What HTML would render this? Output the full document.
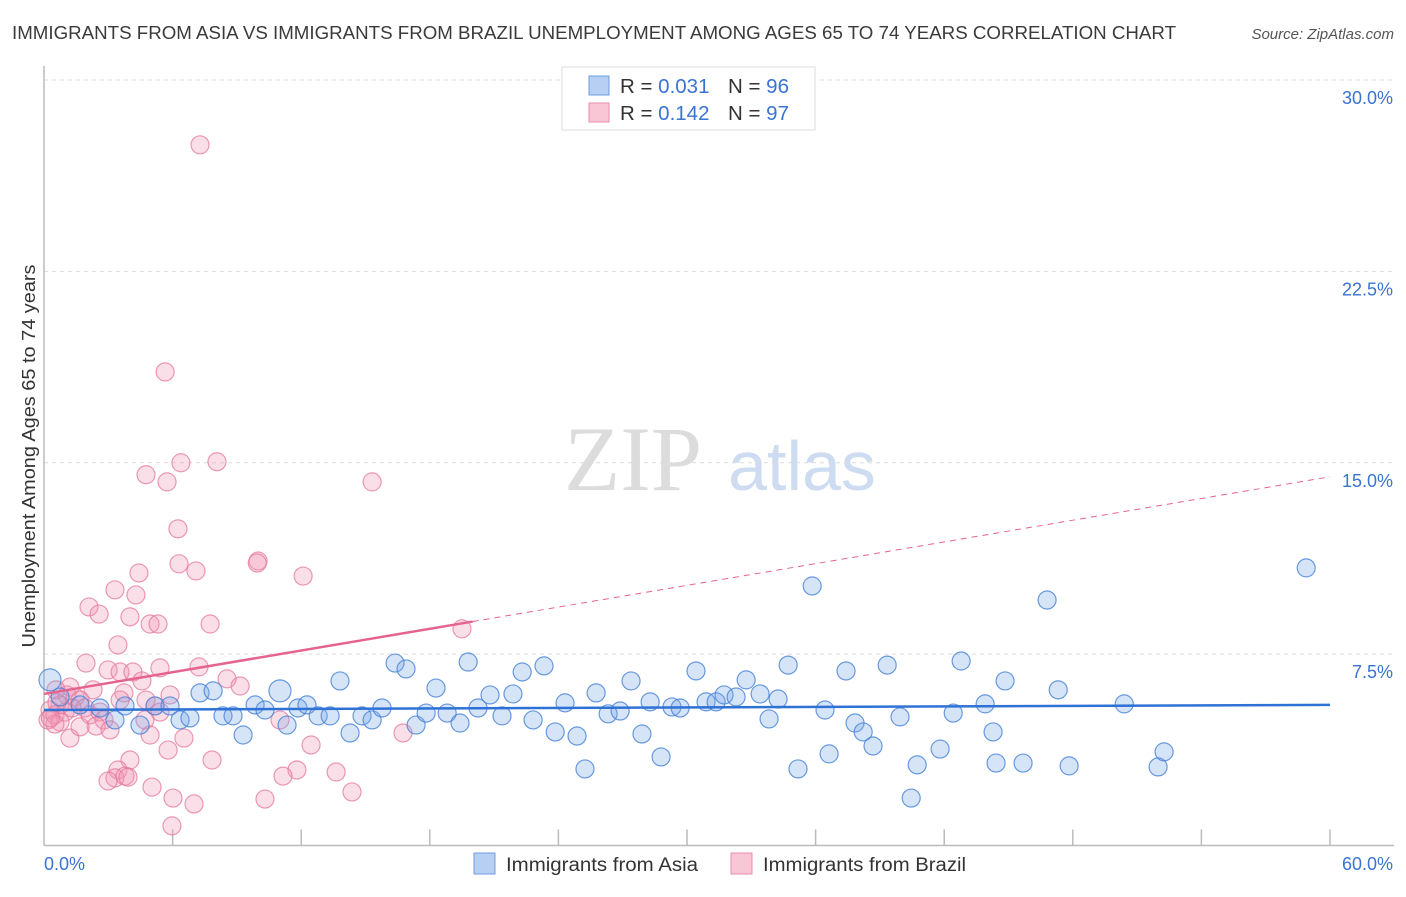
<!DOCTYPE html>
<html><head><meta charset="utf-8">
<style>
body{margin:0;background:#fff;font-family:"Liberation Sans",sans-serif;}
svg text{font-family:"Liberation Sans",sans-serif;}
</style></head>
<body>
<svg id="chart" width="1406" height="892" viewBox="0 0 1406 892">
  <text x="12" y="39" font-size="18" fill="#3a3a3a" textLength="1164" lengthAdjust="spacingAndGlyphs">IMMIGRANTS FROM ASIA VS IMMIGRANTS FROM BRAZIL UNEMPLOYMENT AMONG AGES 65 TO 74 YEARS CORRELATION CHART</text>
  <text x="1394" y="39" font-size="15" fill="#555" font-style="italic" text-anchor="end">Source: ZipAtlas.com</text>
  <g>
    <text x="633" y="490" font-size="92" fill="#dcdcdc" text-anchor="middle" font-family="Liberation Serif, serif" style="font-family:'Liberation Serif',serif">ZIP</text>
    <text x="802" y="490" font-size="70" fill="#cddcf0" text-anchor="middle">atlas</text>
  </g>
  <g id="grid"></g>
  <g id="axes"></g>
  <g id="pts"></g>
  <g id="trend"></g>
  <text x="35" y="456" font-size="18.5" fill="#333" text-anchor="middle" textLength="383" lengthAdjust="spacingAndGlyphs" transform="rotate(-90 35 456)">Unemployment Among Ages 65 to 74 years</text>
  <g>
    <rect x="562" y="67" width="253" height="63" fill="#fff" stroke="#ddd"/>
    <rect x="589" y="76" width="20" height="19" fill="#b7cff3" stroke="#6f9ee0"/>
    <rect x="589" y="103" width="20" height="19" fill="#f8c6d4" stroke="#e98fae"/>
    <text x="620" y="93" font-size="20.5" fill="#333">R = <tspan fill="#3a73d1">0.031</tspan><tspan x="728">N = </tspan><tspan fill="#3a73d1">96</tspan></text>
    <text x="620" y="120" font-size="20.5" fill="#333">R = <tspan fill="#3a73d1">0.142</tspan><tspan x="728">N = </tspan><tspan fill="#3a73d1">97</tspan></text>
  </g>
  <g>
    <rect x="474" y="853" width="21" height="21" fill="#b7cff3" stroke="#6f9ee0"/>
    <text x="506" y="871" font-size="19" fill="#333" textLength="192" lengthAdjust="spacingAndGlyphs">Immigrants from Asia</text>
    <rect x="731" y="853" width="21" height="21" fill="#f8c6d4" stroke="#e98fae"/>
    <text x="763" y="871" font-size="19" fill="#333" textLength="203" lengthAdjust="spacingAndGlyphs">Immigrants from Brazil</text>
  </g>
</svg>
<script>
const asiaX=[0.28,0.75,1.68,2.61,3.31,3.78,4.48,5.18,5.88,6.35,6.81,7.28,7.89,8.35,8.82,9.29,9.85,10.31,11.01,11.34,11.85,12.27,12.79,13.35,13.81,14.28,14.84,15.31,15.77,16.38,16.89,17.36,17.83,18.29,18.81,19.41,19.79,20.25,20.81,21.37,21.88,22.31,22.82,23.33,23.85,24.31,24.87,25.24,25.76,26.32,26.88,27.39,27.90,28.28,28.79,29.30,29.68,30.42,30.89,31.36,31.73,32.29,32.76,33.41,33.83,34.25,34.72,35.18,35.84,36.44,36.63,37.42,37.84,38.22,38.68,39.34,39.94,40.46,40.74,41.81,42.42,42.79,43.91,44.28,44.42,44.84,45.68,46.80,47.32,47.83,50.40,51.98,52.26,58.89];
const asiaY=[6.49,5.82,5.51,5.39,4.92,5.47,4.72,5.47,5.47,4.92,5.00,5.98,6.06,5.08,5.08,4.33,5.51,5.31,6.06,4.72,5.39,5.51,5.08,5.08,6.45,4.41,5.08,4.92,5.39,7.15,6.92,4.72,5.19,6.17,5.19,4.80,7.19,5.39,5.90,5.08,5.94,6.80,4.92,7.04,4.45,5.59,4.29,3.00,5.98,5.16,5.27,6.45,4.37,5.63,3.47,5.43,5.39,6.84,5.63,5.63,5.90,5.82,6.49,5.94,4.96,5.74,7.07,3.00,10.17,5.31,3.59,6.84,4.80,4.45,3.90,7.07,5.04,1.86,3.16,3.78,5.19,7.23,5.55,4.45,3.23,6.45,3.23,9.62,6.10,3.12,5.55,3.08,3.67,10.88];
const brazilX=[7.28,5.65,4.76,5.74,6.39,8.07,15.31,6.25,9.99,9.95,12.09,6.30,7.09,4.43,3.31,4.29,2.10,2.57,4.01,4.95,5.32,7.75,19.50,3.45,1.96,2.99,3.55,4.15,5.41,7.23,8.54,9.15,4.57,1.21,2.29,3.73,5.88,0.56,1.07,1.45,1.68,0.75,0.28,0.19,0.51,0.98,1.31,1.91,2.15,2.61,2.80,2.43,3.08,3.55,4.76,5.18,5.41,4.71,4.95,1.21,0.75,1.68,11.01,16.75,12.46,6.53,5.79,4.01,7.84,3.45,3.31,2.99,3.78,3.92,11.80,13.63,11.15,5.04,14.37,10.31,6.02,7.00,5.97,0.51,0.3,0.6];
const brazilY=[27.46,18.56,14.53,14.25,15.00,15.04,14.25,12.41,11.15,11.07,10.56,11.04,10.76,10.68,10.02,9.82,9.35,9.07,8.96,8.68,8.68,8.68,8.49,7.86,7.15,6.88,6.80,6.80,6.96,7.00,6.53,6.25,6.45,6.21,6.10,5.98,5.90,6.10,5.90,5.82,5.70,5.51,5.31,4.92,5.12,5.23,5.39,5.39,5.12,5.23,4.92,4.68,4.53,5.70,5.70,5.47,5.23,4.92,4.33,4.21,4.84,4.65,4.92,4.41,3.94,4.21,3.74,3.35,3.35,2.96,2.65,2.53,2.72,2.68,2.96,2.88,2.72,2.29,2.10,1.82,1.86,1.63,0.77,4.76,5.0,5.6];
const asiaTrend=[5.31,5.51];
const brazilTrend=[5.94,14.45];
const brazilSolidEnd=20.0;
const yTicks=[7.5,15.0,22.5,30.0];
const yTickLabels=["7.5%","15.0%","22.5%","30.0%"];
const xTickVals=[0,6,12,18,24,30,36,42,48,54,60];

const NS="http://www.w3.org/2000/svg";
const X0=44,X1=1330,Y0=845.5,YTOP=80;
function sx(v){return X0+v/60*(X1-X0);}
function sy(v){return Y0-v/30*(Y0-YTOP);}
function mk(tag,attrs,parent){const e=document.createElementNS(NS,tag);for(const k in attrs)e.setAttribute(k,attrs[k]);parent.appendChild(e);return e;}
const grid=document.getElementById('grid'),axes=document.getElementById('axes'),pts=document.getElementById('pts'),trend=document.getElementById('trend');
yTicks.forEach((t,i)=>{
  const l=mk('line',{x1:X0,x2:1394,y1:sy(t),y2:sy(t),stroke:'#dcdcdc','stroke-dasharray':'4,4'},grid);
  
  
  const tx=mk('text',{x:1393,y:sy(t)+24,'font-size':18,fill:'#3a73d1','text-anchor':'end'},grid);
  tx.textContent=yTickLabels[i];
  
  
});
mk('line',{x1:X0,x2:X0,y1:66,y2:Y0,stroke:'#bbb','stroke-width':1.5},axes);
mk('line',{x1:X0,x2:1394,y1:Y0,y2:Y0,stroke:'#bbb','stroke-width':1.5},axes);
xTickVals.forEach(t=>{
  if(t===0)return;
  const l=mk('line',{x1:sx(t),x2:sx(t),y1:Y0-16,y2:Y0,stroke:'#bbb','stroke-width':1.5},axes);
  
  
});
const xl=mk('text',{x:44,y:870,'font-size':18,fill:'#3a73d1'},axes);xl.textContent='0.0%';


const xr=mk('text',{x:1393,y:870,'font-size':18,fill:'#3a73d1','text-anchor':'end'},axes);xr.textContent='60.0%';



brazilX.forEach((x,i)=>{
  const c=mk('circle',{cx:sx(x),cy:sy(brazilY[i]),r:9,fill:'rgba(242,150,180,0.3)',stroke:'rgba(228,120,158,0.75)','stroke-width':1.2},pts);
  
  
});
asiaX.forEach((x,i)=>{
  const big=(i===0||i===18);
  const c=mk('circle',{cx:sx(x),cy:sy(asiaY[i]),r:big?11:9,fill:'rgba(120,165,232,0.3)',stroke:'rgba(70,130,215,0.8)','stroke-width':1.2},pts);
  
  
});
const bt=mk('line',{x1:sx(0),y1:sy(asiaTrend[0]),x2:sx(60),y2:sy(asiaTrend[1]),stroke:'#2f72d6','stroke-width':2.5},trend);


const pm=brazilTrend[0]+(brazilTrend[1]-brazilTrend[0])*brazilSolidEnd/60;
const pt=mk('line',{x1:sx(0),y1:sy(brazilTrend[0]),x2:sx(brazilSolidEnd),y2:sy(pm),stroke:'#e5648f','stroke-width':2.5},trend);


const pd=mk('line',{x1:sx(brazilSolidEnd),y1:sy(pm),x2:sx(60),y2:sy(brazilTrend[1]),stroke:'#e5648f','stroke-width':1,'stroke-dasharray':'6,5'},trend);


</script>
</body></html>
